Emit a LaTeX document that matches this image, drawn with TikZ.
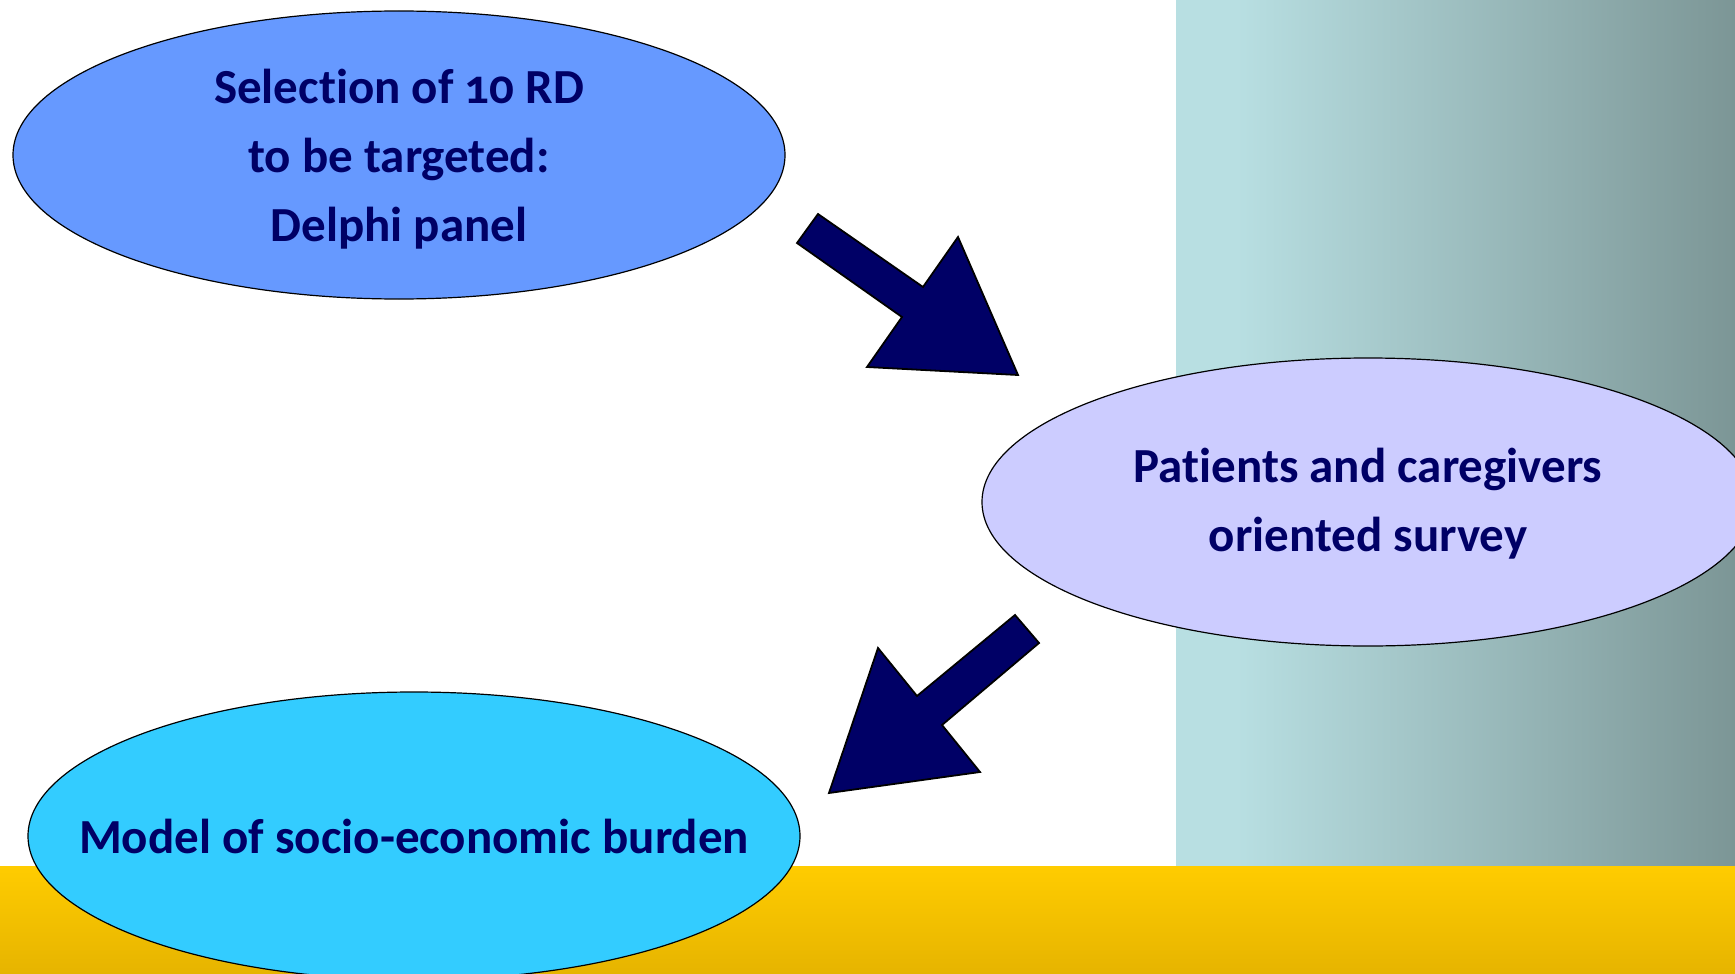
\documentclass[tikz,border=0pt]{standalone}
\usepackage{fontspec}
\setmainfont{Carlito}[Numbers=OldStyle, Ligatures=NoCommon]
\usetikzlibrary{shapes.geometric}
\definecolor{navy}{HTML}{000066}
\definecolor{ellA}{HTML}{6699FF}
\definecolor{ellB}{HTML}{CCCCFF}
\definecolor{ellC}{HTML}{33CCFF}
\definecolor{panelL}{HTML}{B8DFE2}
\definecolor{panelR}{HTML}{7C9696}
\definecolor{yelT}{HTML}{FFCC00}
\definecolor{yelB}{HTML}{E6B400}
\tikzset{
  blob/.style={ellipse, draw=black, line width=0.6pt, minimum width=386pt, minimum height=144pt, inner sep=0pt},
  txt/.style={align=center, text=navy, font=\fontsize{24.5}{34.5}\selectfont\bfseries},
  blockarrow/.style={fill=navy, draw=black, line width=0.9pt, line join=miter}
}
\begin{document}
\begin{tikzpicture}[x=0.5pt, y=-0.5pt]
\useasboundingbox (0,0) rectangle (1735,974);
\clip (0,0) rectangle (1735,974);
\fill[white] (0,0) rectangle (1735,974);
% gradient panel
\fill[panelL] (1176,0) rectangle (1237,867);
\shade[left color=panelL, right color=panelR] (1236,0) rectangle (1735,867);
% yellow band
\shade[top color=yelT, bottom color=yelB] (0,866) rectangle (1735,974);
% ellipses
\node[blob, fill=ellA] (sel) at (399,155) {};
\node[txt] at ([yshift=-2pt]sel.center) {Selection of 10 RD\\to be targeted:\\Delphi panel};
\node[blob, fill=ellB] (pat) at (1368,502) {};
\node[txt] at ([yshift=-1pt]pat.center) {Patients and caregivers\\oriented survey};
\node[blob, fill=ellC] (mod) at (414,836) {};
\node[txt] at (mod.center) {Model of socio-economic burden};
% block arrows
\draw[blockarrow] (797,243) -- (818,214) -- (923,287) -- (958,237) -- (1018,375) -- (867,367) -- (902,317) -- cycle;
\draw[blockarrow] (1015,615) -- (1039,643) -- (942,725) -- (980,772) -- (829,793) -- (878,648) -- (917,696) -- cycle;
\end{tikzpicture}
\end{document}
